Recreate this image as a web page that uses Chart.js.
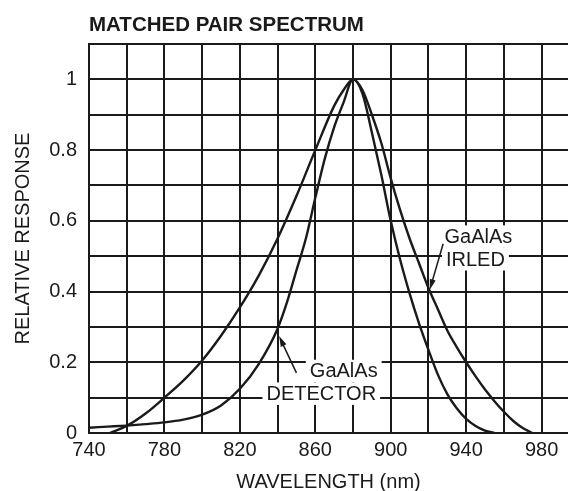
<!DOCTYPE html>
<html>
<head>
<meta charset="utf-8">
<script src="https://cdn.jsdelivr.net/npm/chart.js@4.4.1/dist/chart.umd.min.js"></script>
<style>
  html, body { margin: 0; padding: 0; background: #fff; }
  #wrap { width: 568px; height: 491px; }
</style>
</head>
<body>
<div id="wrap"><canvas id="spectrum"></canvas></div>
<script>
// Curvas (comprimento de onda em nm, resposta relativa)
const detectorWavelength = [740, 750, 760, 770, 780, 790, 800, 810, 820, 830, 840, 845, 850, 855, 860, 865, 870, 875, 880, 885, 890, 895, 900, 905, 910, 915, 920, 925, 930, 935, 940, 945, 950, 955];
const detectorResponse = [0.015, 0.018, 0.021, 0.025, 0.03, 0.038, 0.052, 0.078, 0.125, 0.195, 0.295, 0.37, 0.46, 0.55, 0.665, 0.775, 0.865, 0.935, 1.0, 0.96, 0.85, 0.73, 0.6, 0.49, 0.395, 0.31, 0.235, 0.165, 0.11, 0.07, 0.04, 0.02, 0.007, 0];

const irledWavelength = [751, 760, 770, 780, 790, 800, 810, 820, 830, 840, 850, 860, 870, 875, 880, 885, 890, 895, 900, 905, 910, 915, 920, 925, 930, 935, 940, 945, 950, 955, 960, 965, 970, 975];
const irledResponse = [0, 0.02, 0.055, 0.1, 0.148, 0.205, 0.275, 0.355, 0.445, 0.55, 0.67, 0.8, 0.925, 0.97, 1.0, 0.97, 0.9, 0.82, 0.72, 0.63, 0.55, 0.48, 0.41, 0.35, 0.29, 0.243, 0.2, 0.16, 0.123, 0.09, 0.06, 0.034, 0.014, 0];

// Eixos
const xMin = 740;
const xMax = 994;
const xGridStep = 20;
const xLabelStep = 40;
const yMin = 0;
const yMax = 1.1;
const yGridStep = 0.1;

const ink = "#1a1a1a";
const font = "'Liberation Sans', Arial, Helvetica, sans-serif";

function toPoints(xs, ys) {
  return xs.map((x, i) => ({ x: x, y: ys[i] }));
}

// Rótulos com seta (posições em unidades dos dados)
const notes = [
  {
    lines: ["GaAlAs", "IRLED"],
    x: [928.5, 929.3],
    y: [0.556, 0.492],
    from: [927.8, 0.535],
    to: [920.7, 0.405],
  },
  {
    lines: ["GaAlAs", "DETECTOR"],
    x: [857.1, 834.1],
    y: [0.176, 0.112],
    from: [850.0, 0.17],
    to: [840.8, 0.274],
  },
];

const notesPlugin = {
  id: "notes",
  afterDraw(chart) {
    const ctx = chart.ctx;
    const xs = chart.scales.x;
    const ys = chart.scales.y;
    ctx.save();
    ctx.font = "20px " + font;
    ctx.textBaseline = "middle";
    ctx.textAlign = "left";
    notes.forEach((n) => {
      n.lines.forEach((txt, i) => {
        const px = xs.getPixelForValue(n.x[i]);
        const py = ys.getPixelForValue(n.y[i]);
        const w = ctx.measureText(txt).width;
        ctx.fillStyle = "#fff";
        ctx.fillRect(px - 4, py - 11, w + 8, 22.5);
        ctx.fillStyle = ink;
        ctx.fillText(txt, px, py + 1);
      });

      // Seta
      const x1 = xs.getPixelForValue(n.from[0]);
      const y1 = ys.getPixelForValue(n.from[1]);
      const x2 = xs.getPixelForValue(n.to[0]);
      const y2 = ys.getPixelForValue(n.to[1]);
      const ang = Math.atan2(y2 - y1, x2 - x1);
      const head = 11;
      ctx.strokeStyle = ink;
      ctx.lineWidth = 1.5;
      ctx.beginPath();
      ctx.moveTo(x1, y1);
      ctx.lineTo(x2 - Math.cos(ang) * head * 0.8, y2 - Math.sin(ang) * head * 0.8);
      ctx.stroke();
      ctx.fillStyle = ink;
      ctx.beginPath();
      ctx.moveTo(x2, y2);
      ctx.lineTo(x2 - Math.cos(ang - 0.28) * head, y2 - Math.sin(ang - 0.28) * head);
      ctx.lineTo(x2 - Math.cos(ang + 0.28) * head, y2 - Math.sin(ang + 0.28) * head);
      ctx.closePath();
      ctx.fill();
    });
    ctx.restore();
  },
};

const ctx = document.getElementById("spectrum").getContext("2d");
new Chart(ctx, {
  type: "line",
  data: {
    datasets: [
      {
        label: "GaAlAs IRLED",
        data: toPoints(irledWavelength, irledResponse),
        borderColor: ink,
        borderWidth: 2.4,
        pointRadius: 0,
        cubicInterpolationMode: "monotone",
        fill: false,
      },
      {
        label: "GaAlAs DETECTOR",
        data: toPoints(detectorWavelength, detectorResponse),
        borderColor: ink,
        borderWidth: 2.4,
        pointRadius: 0,
        cubicInterpolationMode: "monotone",
        fill: false,
      },
    ],
  },
  options: {
    responsive: true,
    maintainAspectRatio: false,
    animation: false,
    layout: { padding: 0 },
    plugins: {
      legend: { display: false },
      tooltip: { enabled: false },
      title: {
        display: true,
        text: "MATCHED PAIR SPECTRUM",
        align: "start",
        fullSize: false,
        color: ink,
        font: { family: font, size: 20.5, weight: "bold", lineHeight: 1.2 },
        padding: { top: 13, bottom: 6.4 },
      },
    },
    scales: {
      x: {
        type: "linear",
        min: xMin,
        max: xMax,
        afterFit(scale) {
          scale.height = 58;
        },
        grid: { color: ink, lineWidth: 2, drawTicks: false },
        border: { color: ink, width: 2 },
        ticks: {
          stepSize: xGridStep,
          includeBounds: false,
          padding: 5,
          color: ink,
          font: { family: font, size: 20 },
          maxRotation: 0,
          autoSkip: false,
          callback: (v) => ((v - xMin) % xLabelStep === 0 ? String(v) : ""),
        },
        title: {
          display: true,
          text: "WAVELENGTH (nm)",
          color: ink,
          font: { family: font, size: 20, lineHeight: 0.9 },
          padding: 0,
        },
      },
      y: {
        type: "linear",
        min: yMin,
        max: yMax,
        afterFit(scale) {
          scale.width = 89;
        },
        grid: { color: ink, lineWidth: 2, drawTicks: false },
        border: { color: ink, width: 2 },
        ticks: {
          stepSize: yGridStep,
          padding: 12,
          color: ink,
          font: { family: font, size: 20 },
          autoSkip: false,
          callback: (v) => {
            const t = Math.round(v * 10);
            return t % 2 === 0 && t <= 10 ? String(t / 10) : "";
          },
        },
        title: {
          display: true,
          text: "RELATIVE RESPONSE",
          color: ink,
          font: { family: font, size: 20, lineHeight: 1.2 },
          padding: { top: 11, bottom: 0 },
        },
      },
    },
  },
  plugins: [notesPlugin],
});
</script>
</body>
</html>
